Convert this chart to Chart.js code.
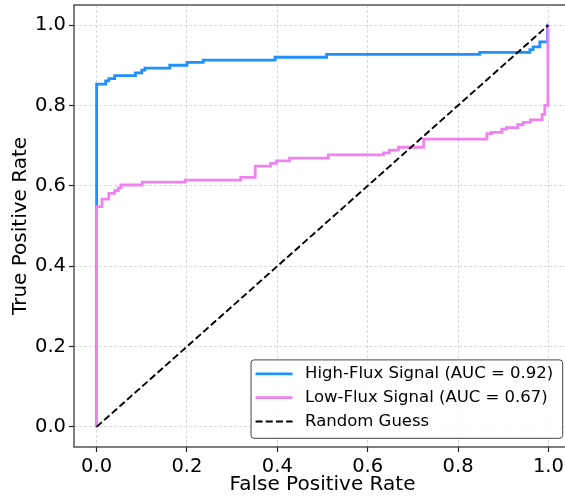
<!DOCTYPE html>
<html>
<head>
<meta charset="utf-8">
<script src="https://cdn.jsdelivr.net/npm/chart.js@4/dist/chart.umd.min.js"></script>
<style>
  html, body { margin: 0; padding: 0; background: #fff; overflow: hidden; }
  #wrap { width: 571px; height: 498px; }
</style>
</head>
<body>
<div id="wrap"><canvas id="rocChart" width="571" height="498"></canvas></div>
<script>
// ROC data (corner points of each step)
const seriesLabels = ['High-Flux Signal (AUC = 0.92)', 'Low-Flux Signal (AUC = 0.67)', 'Random Guess'];

const highFpr = [0, 0, 0.020, 0.027, 0.040, 0.086, 0.100, 0.107, 0.162, 0.200, 0.236, 0.395, 0.509, 0.848, 0.959, 0.966, 0.981, 0.998, 1.0];
const highTpr = [0, 0.853, 0.861, 0.867, 0.874, 0.881, 0.888, 0.893, 0.900, 0.907, 0.913, 0.920, 0.927, 0.932, 0.939, 0.946, 0.958, 1.0, 1.0];

const lowFpr = [0, 0, 0.012, 0.027, 0.040, 0.048, 0.054, 0.101, 0.196, 0.319, 0.351, 0.385, 0.398, 0.427, 0.513, 0.635, 0.648, 0.668, 0.724, 0.864, 0.874, 0.897, 0.907, 0.932, 0.944, 0.960, 0.986, 0.992, 0.999, 1.0];
const lowTpr = [0, 0.548, 0.567, 0.581, 0.588, 0.595, 0.602, 0.609, 0.614, 0.621, 0.649, 0.656, 0.662, 0.669, 0.677, 0.682, 0.689, 0.696, 0.716, 0.730, 0.733, 0.741, 0.745, 0.752, 0.758, 0.764, 0.778, 0.800, 1.0, 1.0];

const guessFpr = [0, 1];
const guessTpr = [0, 1];

const tickValues = [0, 0.2, 0.4, 0.6, 0.8, 1.0];

const toPoints = (xs, ys) => xs.map((x, i) => ({ x: x, y: ys[i] }));

Chart.defaults.font.family = "'DejaVu Sans', sans-serif";
Chart.defaults.color = '#000';

// top/right spine like a matplotlib axes box
const framePlugin = {
  id: 'frame',
  afterDraw(chart) {
    const { ctx, chartArea: a } = chart;
    ctx.save();
    ctx.strokeStyle = '#3a3a3a';
    ctx.lineWidth = 1.3;
    ctx.strokeRect(a.left, a.top, a.right - a.left, a.bottom - a.top);
    ctx.restore();
  }
};

// legend box in lower right, inside plot
const boxLegend = {
  id: 'boxLegend',
  afterDraw(chart) {
    const { ctx, chartArea: a } = chart;
    const ds = chart.data.datasets;
    ctx.save();
    ctx.font = "16.5px 'DejaVu Sans'";
    let maxW = 0;
    ds.forEach(d => { maxW = Math.max(maxW, ctx.measureText(d.label).width); });
    const rowH = 23.8;
    const w = 4.5 + 37 + 12.5 + maxW + 9.5;
    const h = rowH * ds.length + 7;
    const x = 562.7 - w;
    const y = a.bottom - 8.7 - h;
    ctx.beginPath();
    ctx.roundRect(x, y, w, h, 3);
    ctx.fillStyle = 'rgba(255,255,255,0.85)';
    ctx.fill();
    ctx.strokeStyle = '#444';
    ctx.lineWidth = 1;
    ctx.stroke();
    ds.forEach((d, i) => {
      const cy = y + 14 + i * rowH;
      ctx.beginPath();
      ctx.strokeStyle = d.borderColor;
      ctx.lineWidth = d.borderWidth;
      ctx.setLineDash(d.borderDash || []);
      ctx.moveTo(x + 4.5, cy);
      ctx.lineTo(x + 4.5 + 37, cy);
      ctx.stroke();
      ctx.setLineDash([]);
      ctx.fillStyle = '#000';
      ctx.textBaseline = 'middle';
      ctx.textAlign = 'left';
      ctx.fillText(d.label, x + 4.5 + 37 + 12.5, cy);
    });
    ctx.restore();
  }
};

const gridOpts = {
  color: '#d0d0d0',
  lineWidth: 0.8,
  drawTicks: true,
  tickLength: 5,
  tickColor: '#222',
  tickWidth: 1.2,
  tickBorderDash: []
};

const ctx = document.getElementById('rocChart').getContext('2d');
new Chart(ctx, {
  type: 'line',
  data: {
    datasets: [
      {
        label: seriesLabels[0],
        data: toPoints(highFpr, highTpr),
        borderColor: '#1E90FF',
        borderWidth: 2.8,
        stepped: true,
        pointRadius: 0,
        fill: false,
        order: 2
      },
      {
        label: seriesLabels[1],
        data: toPoints(lowFpr, lowTpr),
        borderColor: '#EE82EE',
        borderWidth: 2.8,
        stepped: true,
        pointRadius: 0,
        fill: false,
        order: 1
      },
      {
        label: seriesLabels[2],
        data: toPoints(guessFpr, guessTpr),
        borderColor: '#000000',
        borderWidth: 1.9,
        borderDash: [7, 3.2],
        pointRadius: 0,
        fill: false,
        order: 0
      }
    ]
  },
  options: {
    responsive: false,
    animation: false,
    layout: { padding: { top: 5, left: 0, right: 0, bottom: 0 } },
    plugins: {
      legend: { display: false },
      tooltip: { enabled: false }
    },
    scales: {
      x: {
        type: 'linear',
        min: -0.05,
        max: 1.05,
        afterBuildTicks: s => { s.ticks = tickValues.map(v => ({ value: v })); },
        afterFit: s => { s.height = 51; s.paddingLeft = 0; s.paddingRight = 0; },
        ticks: {
          font: { size: 19.5 },
          padding: 3,
          maxRotation: 0,
          callback: v => Number(v).toFixed(1)
        },
        grid: gridOpts,
        border: { display: false, dash: [3, 2] },
        title: {
          display: true,
          text: 'False Positive Rate',
          font: { size: 20 },
          padding: { top: 0, bottom: 1 }
        }
      },
      y: {
        type: 'linear',
        min: -0.05,
        max: 1.05,
        afterBuildTicks: s => { s.ticks = tickValues.map(v => ({ value: v })); },
        afterFit: s => { s.width = 74; s.paddingTop = 0; s.paddingBottom = 0; },
        ticks: {
          font: { size: 19.5 },
          padding: 3,
          callback: v => Number(v).toFixed(1)
        },
        grid: gridOpts,
        border: { display: false, dash: [3, 2] },
        title: {
          display: true,
          text: 'True Positive Rate',
          font: { size: 20 },
          padding: { top: 9, bottom: 0 }
        }
      }
    }
  },
  plugins: [framePlugin, boxLegend]
});
</script>
</body>
</html>
